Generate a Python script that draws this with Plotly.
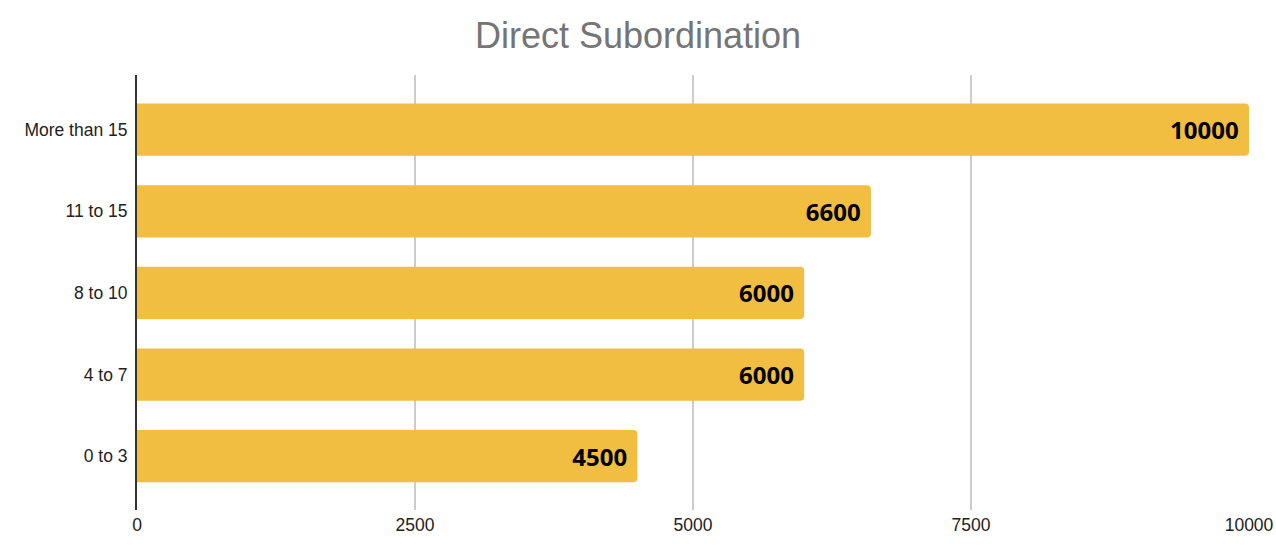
import plotly.graph_objects as go

categories = ["0 to 3", "4 to 7", "8 to 10", "11 to 15", "More than 15"]
values = [4500, 6000, 6000, 6600, 10000]
x_ticks = [0, 2500, 5000, 7500, 10000]
title = "Direct Subordination"

bar_color = "#F1BE42"

W, H = 1276, 560

fig = go.Figure(
    go.Bar(
        y=categories,
        x=values,
        orientation="h",
        marker=dict(color=bar_color, line=dict(width=0)),
        width=0.64,
        text=[f"{v}\u00a0" for v in values],
        textposition="inside",
        insidetextanchor="end",
        textangle=0,
        textfont=dict(family="Noto Sans", size=24, color="#000000", weight="bold"),
        cliponaxis=False,
        hoverinfo="skip",
    )
)

fig.update_layout(
    width=W,
    height=H,
    paper_bgcolor="white",
    plot_bgcolor="white",
    margin=dict(l=137, r=27, t=75, b=50, autoexpand=False),
    barcornerradius=4,
    showlegend=False,
    title=dict(
        text=title,
        x=0.5,
        xanchor="center",
        y=1 - 35 / H,
        yanchor="middle",
        font=dict(family="Liberation Sans", size=36, color="#757575"),
    ),
    xaxis=dict(
        range=[0, 10000],
        tickvals=x_ticks,
        ticktext=[str(t) for t in x_ticks],
        showgrid=True,
        gridcolor="#CCCCCC",
        gridwidth=1.5,
        zeroline=False,
        showline=False,
        ticks="",
        tickfont=dict(family="Liberation Sans", size=17.5, color="#222222"),
        ticklabelstandoff=2,
    ),
    yaxis=dict(
        type="category",
        range=[-0.66, 4.67],
        showgrid=False,
        zeroline=False,
        showline=True,
        linecolor="#333333",
        linewidth=2,
        ticks="",
        tickfont=dict(family="Liberation Sans", size=17.5, color="#222222"),
        ticklabelstandoff=4,
    ),
)

fig.write_html(
    "out.html",
    config={"displayModeBar": False},
    post_script="document.body.style.margin='0';document.body.style.overflow='hidden';",
)
